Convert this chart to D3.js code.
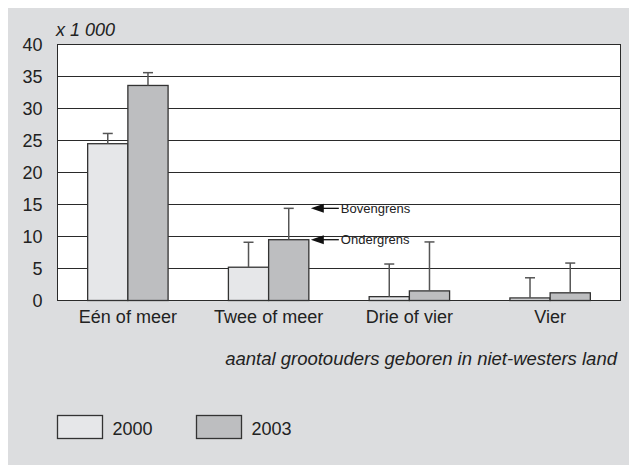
<!DOCTYPE html>
<html>
<head>
<meta charset="utf-8">
<script src="https://cdn.jsdelivr.net/npm/d3@7"></script>
<style>
  body { margin: 0; background: #fff; }
  svg { display: block; font-family: "Liberation Sans", Arial, sans-serif; }
</style>
</head>
<body>
<svg id="chart" width="629" height="465"></svg>
<script>
// data (x 1 000)
const categories = ["Eén of meer", "Twee of meer", "Drie of vier", "Vier"];
const years = ["2000", "2003"];
const values2000 = [24.5, 5.2, 0.6, 0.4];
const values2003 = [33.6, 9.5, 1.5, 1.2];
const upper2000 = [26.1, 9.1, 5.7, 3.55];
const upper2003 = [35.6, 14.4, 9.15, 5.85];
const yTicks = [0, 5, 10, 15, 20, 25, 30, 35, 40];
const colors = { "2000": "#e6e7e9", "2003": "#bdbec0" };

const rows = [];
categories.forEach((c, i) => {
  rows.push({ cat: c, year: "2000", value: values2000[i], upper: upper2000[i] });
  rows.push({ cat: c, year: "2003", value: values2003[i], upper: upper2003[i] });
});

const svg = d3.select("#chart");

// grijze achtergrond
svg.append("rect")
  .attr("x", 8).attr("y", 8)
  .attr("width", 621).attr("height", 457)
  .attr("fill", "#dcdddf");

const plotLeft = 57.5, plotRight = 620.5, plotTop = 44.5, plotBottom = 300.5;

const xScale = d3.scaleBand()
  .domain(categories)
  .range([plotLeft, plotRight]);

const xInner = d3.scaleBand()
  .domain(years)
  .range([0, xScale.bandwidth()])
  .paddingOuter(0.75);

const yScale = d3.scaleLinear()
  .domain([0, 40])
  .range([plotBottom, plotTop]);

// plot vlak
svg.append("rect")
  .attr("x", plotLeft).attr("y", plotTop)
  .attr("width", plotRight - plotLeft).attr("height", plotBottom - plotTop)
  .attr("fill", "#fff");

// rasterlijnen
svg.append("g")
  .selectAll("line")
  .data(yTicks)
  .join("line")
  .attr("x1", plotLeft).attr("x2", plotRight)
  .attr("y1", d => Math.round(yScale(d) - 0.5) + 0.5)
  .attr("y2", d => Math.round(yScale(d) - 0.5) + 0.5)
  .attr("stroke", "#2a2a2a")
  .attr("stroke-width", 1);

// rand
svg.append("rect")
  .attr("x", plotLeft).attr("y", plotTop)
  .attr("width", plotRight - plotLeft).attr("height", plotBottom - plotTop)
  .attr("fill", "none")
  .attr("stroke", "#2a2a2a");

// Y as labels
const axisLeft = d3.axisLeft(yScale)
  .tickValues(yTicks)
  .tickSize(0)
  .tickPadding(15);

svg.append("g")
  .attr("transform", `translate(${plotLeft},0)`)
  .call(axisLeft)
  .call(g => g.select(".domain").remove())
  .call(g => g.selectAll("text")
    .attr("font-size", 18)
    .attr("font-family", "Liberation Sans, Arial, sans-serif")
    .attr("fill", "#222"));

// X as labels
const axisBottom = d3.axisBottom(xScale)
  .tickSize(0)
  .tickPadding(10);

svg.append("g")
  .attr("transform", `translate(0,${plotBottom})`)
  .call(axisBottom)
  .call(g => g.select(".domain").remove())
  .call(g => g.selectAll("text")
    .attr("font-size", 18)
    .attr("font-family", "Liberation Sans, Arial, sans-serif")
    .attr("fill", "#222"));

// BARS
svg.append("g")
  .selectAll("rect")
  .data(rows)
  .join("rect")
  .attr("x", d => xScale(d.cat) + xInner(d.year))
  .attr("y", d => yScale(d.value))
  .attr("width", xInner.bandwidth())
  .attr("height", d => yScale(0) - yScale(d.value))
  .attr("fill", d => colors[d.year])
  .attr("stroke", "#333")
  .attr("stroke-width", 1.3);

// foutmarges (alleen bovenkant)
const err = svg.append("g")
  .attr("stroke", "#555")
  .attr("stroke-width", 1.5);

const cx = d => xScale(d.cat) + xInner(d.year) + xInner.bandwidth() / 2;

err.selectAll("line.v")
  .data(rows)
  .join("line")
  .attr("class", "v")
  .attr("x1", cx).attr("x2", cx)
  .attr("y1", d => yScale(d.value))
  .attr("y2", d => yScale(d.upper));

err.selectAll("line.cap")
  .data(rows)
  .join("line")
  .attr("class", "cap")
  .attr("x1", d => cx(d) - 5).attr("x2", d => cx(d) + 5)
  .attr("y1", d => yScale(d.upper))
  .attr("y2", d => yScale(d.upper));

// pijlen bij Twee of meer / 2003
const ref = rows.find(d => d.cat === "Twee of meer" && d.year === "2003");
const arrowX = xScale(ref.cat) + xInner(ref.year) + xInner.bandwidth() + 2;
const notes = [
  { label: "Bovengrens", y: yScale(ref.upper) },
  { label: "Ondergrens", y: yScale(ref.value) }
];

const ann = svg.append("g")
  .selectAll("g")
  .data(notes)
  .join("g")
  .attr("transform", d => `translate(${arrowX},${d.y})`);

ann.append("path")
  .attr("d", "M0,0 L13,-4.5 L13,4.5 Z")
  .attr("fill", "#111");

ann.append("line")
  .attr("x1", 12).attr("x2", 28)
  .attr("stroke", "#111")
  .attr("stroke-width", 1.3);

ann.append("text")
  .attr("x", 30)
  .attr("dy", "0.35em")
  .attr("font-size", 13)
  .attr("fill", "#222")
  .text(d => d.label);

// eenheid
svg.append("text")
  .attr("x", 56).attr("y", 36)
  .attr("font-size", 18)
  .attr("font-style", "italic")
  .attr("fill", "#222")
  .text("x 1 000");

// as titel
svg.append("text")
  .attr("x", 617).attr("y", 365)
  .attr("text-anchor", "end")
  .attr("font-size", 18.5)
  .attr("font-style", "italic")
  .attr("fill", "#222")
  .text("aantal grootouders geboren in niet-westers land");

// LEGENDA
const legend = svg.append("g")
  .selectAll("g")
  .data(years)
  .join("g")
  .attr("transform", (d, i) => `translate(${57.5 + i * 139},415.5)`);

legend.append("rect")
  .attr("width", 45).attr("height", 23)
  .attr("fill", d => colors[d])
  .attr("stroke", "#333")
  .attr("stroke-width", 1.3);

legend.append("text")
  .attr("x", 55).attr("y", 19)
  .attr("font-size", 18)
  .attr("fill", "#222")
  .text(d => d);
</script>
</body>
</html>
